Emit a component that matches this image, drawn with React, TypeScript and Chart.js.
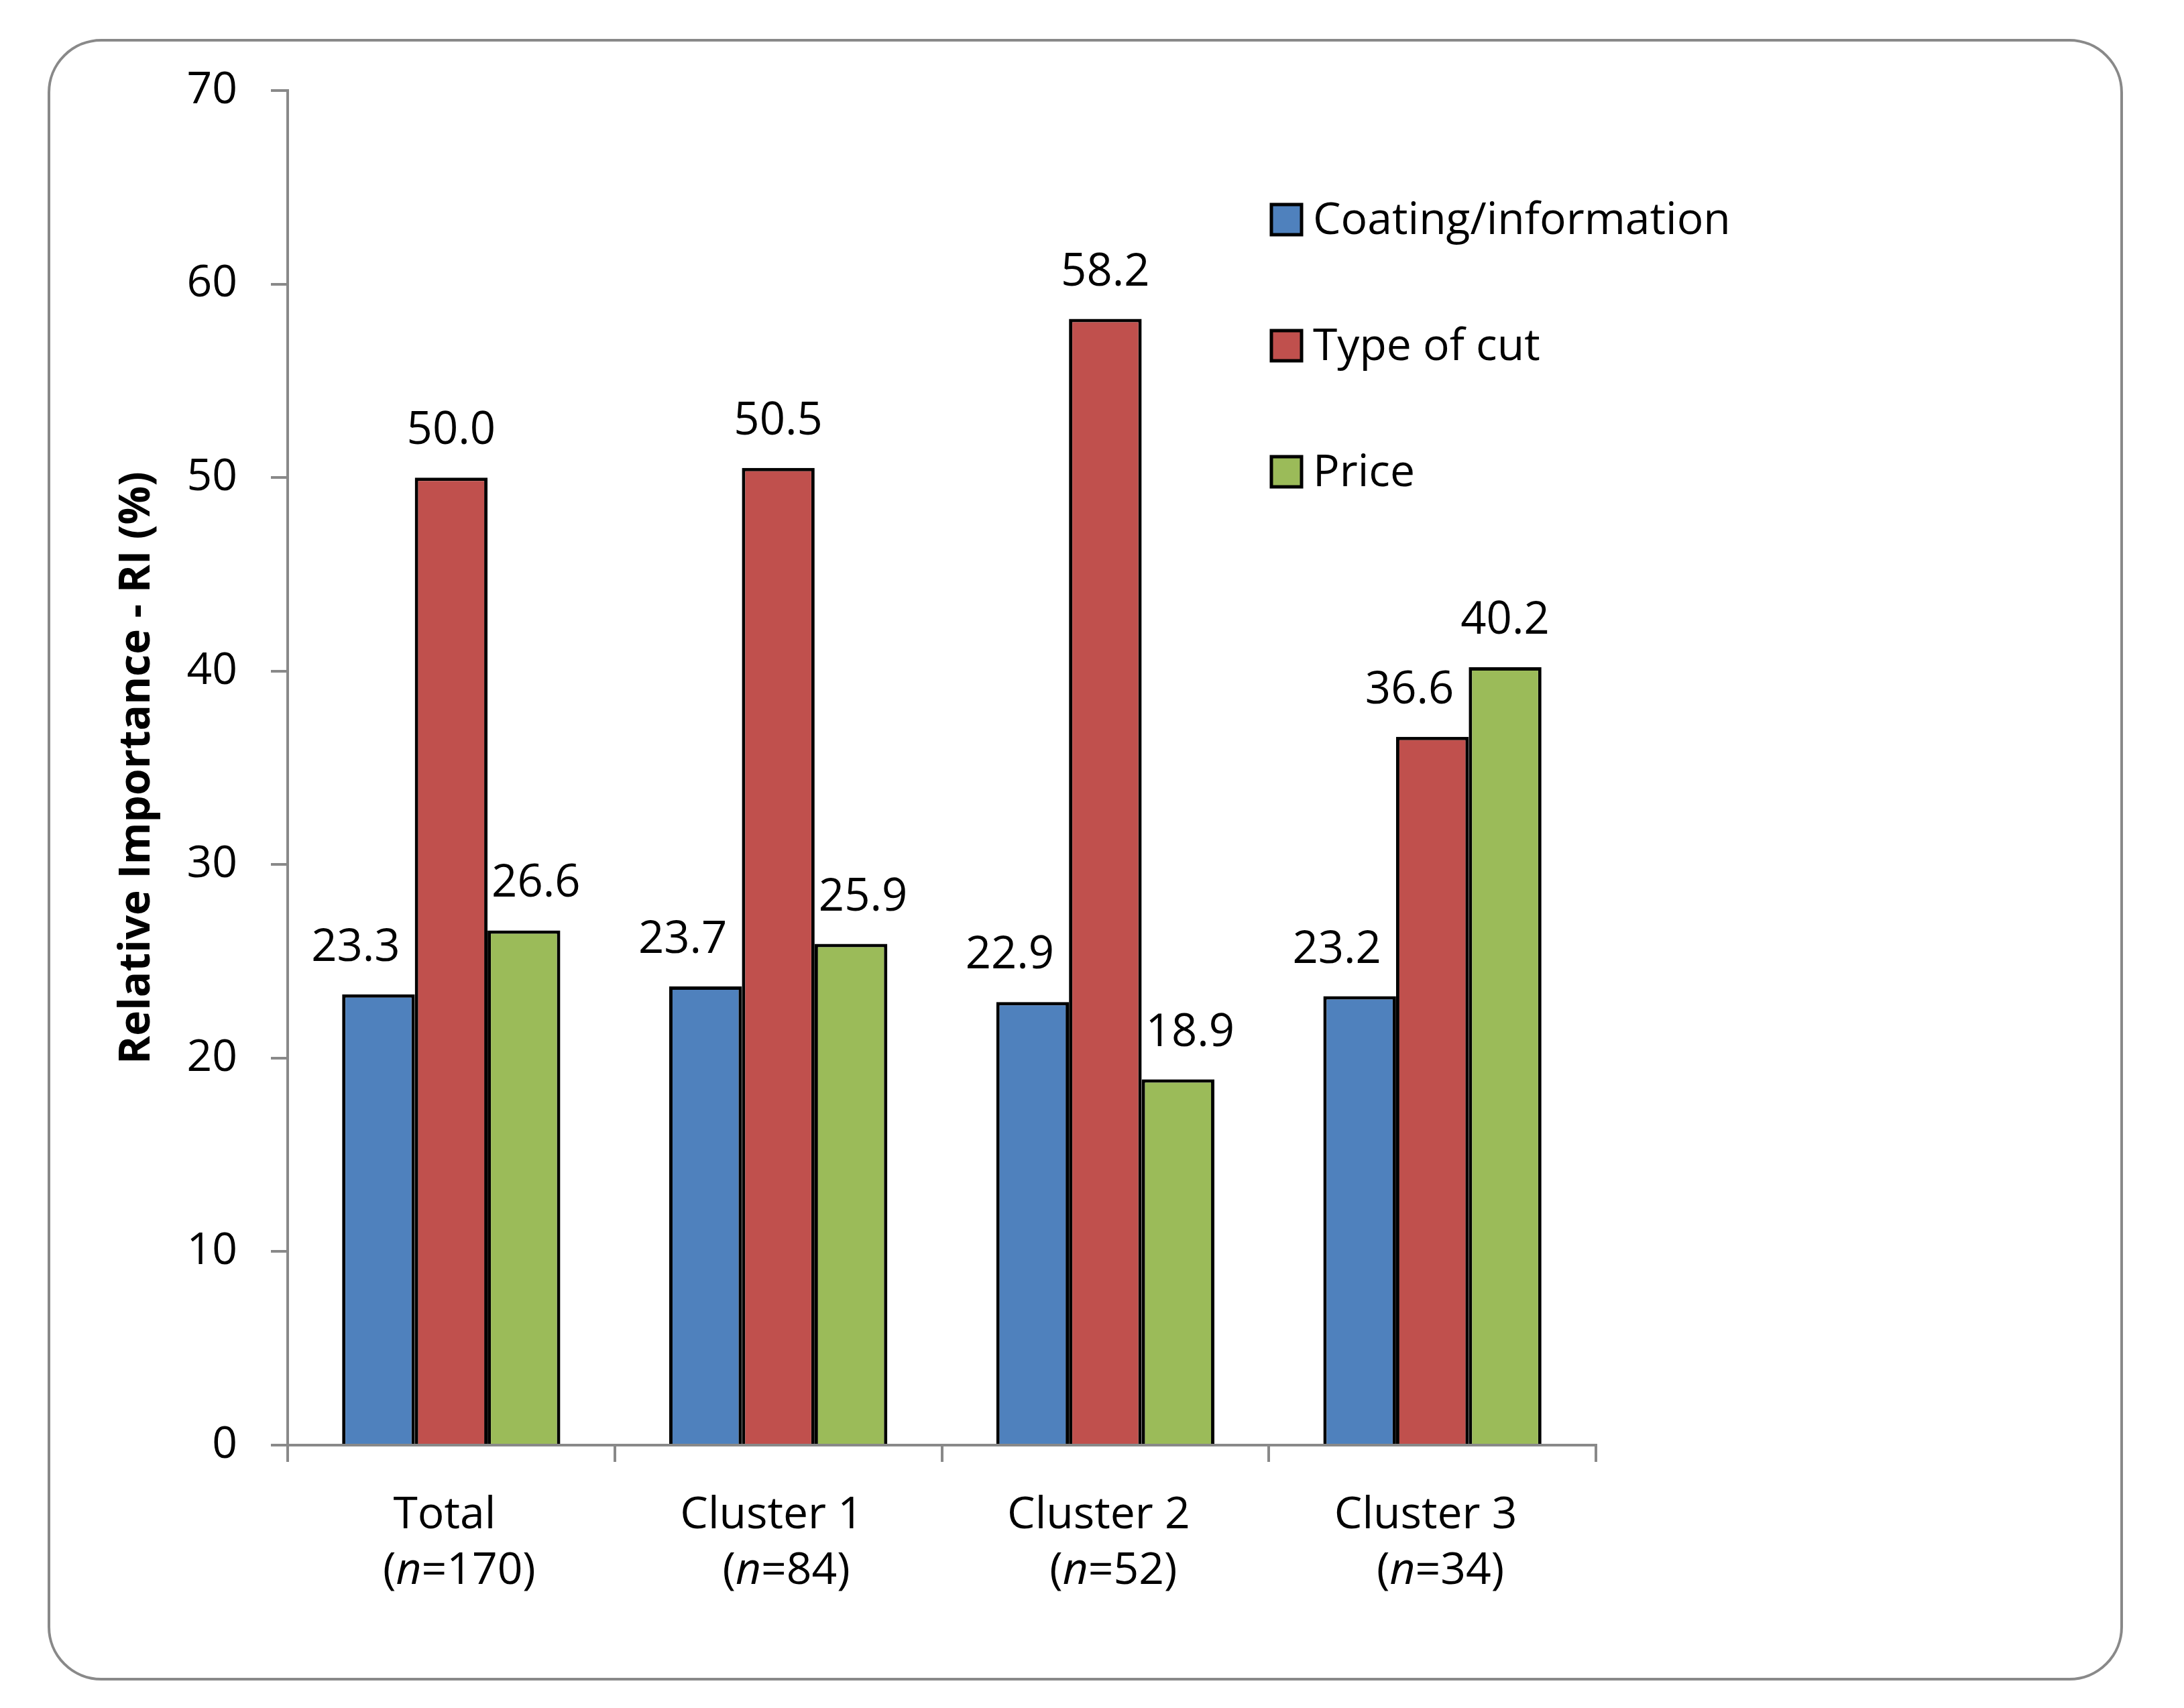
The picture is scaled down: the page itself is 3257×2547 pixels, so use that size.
import React, { useEffect, useRef } from 'react';
import { Chart, registerables } from 'chart.js';

Chart.register(...registerables);

const categories = ['Total', 'Cluster 1', 'Cluster 2', 'Cluster 3'];
const sampleSizes = [170, 84, 52, 34];
const seriesNames = ['Coating/information', 'Type of cut', 'Price'];
const coatingValues = [23.3, 23.7, 22.9, 23.2];
const cutValues = [50.0, 50.5, 58.2, 36.6];
const priceValues = [26.6, 25.9, 18.9, 40.2];
const seriesColors = ['#4F81BD', '#C0504D', '#9BBB59'];
const yAxisTitle = 'Relative Importance - RI (%)';
const yMin = 0;
const yMax = 70;
const yStep = 10;

const FONT = "'Open Sans', 'Noto Sans', sans-serif";
const W = 3257;
const H = 2547;
const GRAY = '#898989';

const framePlugin = {
  id: 'frame',
  beforeDraw(chart: any) {
    const ctx = chart.ctx;
    ctx.save();
    ctx.fillStyle = '#ffffff';
    ctx.fillRect(0, 0, chart.width, chart.height);
    const x0 = 73, y0 = 60, x1 = 3164, y1 = 2504, r = 78;
    ctx.beginPath();
    ctx.moveTo(x0 + r, y0);
    ctx.lineTo(x1 - r, y0);
    ctx.arcTo(x1, y0, x1, y0 + r, r);
    ctx.lineTo(x1, y1 - r);
    ctx.arcTo(x1, y1, x1 - r, y1, r);
    ctx.lineTo(x0 + r, y1);
    ctx.arcTo(x0, y1, x0, y1 - r, r);
    ctx.lineTo(x0, y0 + r);
    ctx.arcTo(x0, y0, x0 + r, y0, r);
    ctx.closePath();
    ctx.lineWidth = 4;
    ctx.strokeStyle = GRAY;
    ctx.stroke();
    ctx.restore();
  },
};

const valueLabelPlugin = {
  id: 'valueLabels',
  afterDatasetsDraw(chart: any) {
    const ctx = chart.ctx;
    ctx.save();
    ctx.font = `67px ${FONT}`;
    ctx.fillStyle = '#000000';
    ctx.textAlign = 'center';
    ctx.textBaseline = 'alphabetic';
    const nSets = chart.data.datasets.length;
    chart.data.datasets.forEach((ds: any, di: number) => {
      const meta = chart.getDatasetMeta(di);
      meta.data.forEach((bar: any, i: number) => {
        const v = ds.data[i];
        const text = Number(v).toFixed(1);
        const tw = ctx.measureText(text).width;
        const baseY = bar.y - 50;
        const top = baseY - 48;
        let cx = bar.x;
        for (let dj = 0; dj < nSets; dj++) {
          if (dj === di) continue;
          const other = chart.getDatasetMeta(dj).data[i];
          const oL = other.x - other.width / 2;
          const oR = other.x + other.width / 2;
          const lL = cx - tw / 2;
          const lR = cx + tw / 2;
          if (lR > oL && lL < oR && baseY > other.y && top < other.base) {
            if (other.x > bar.x) cx -= lR - oL + 22;
            else cx += oR - lL + 6;
          }
        }
        ctx.fillText(text, cx, baseY);
      });
    });
    ctx.restore();
  },
};

const categoryLabelPlugin = {
  id: 'categoryLabels',
  afterDraw(chart: any) {
    const ctx = chart.ctx;
    const xs = chart.scales.x;
    ctx.save();
    ctx.fillStyle = '#000000';
    ctx.textBaseline = 'alphabetic';
    ctx.textAlign = 'left';
    categories.forEach((cat, i) => {
      const cx = xs.getPixelForValue(i);
      ctx.font = `66px ${FONT}`;
      const w1 = ctx.measureText(cat).width;
      ctx.fillText(cat, cx - w1 / 2 - 10, xs.top + 124);
      const parts = [
        { t: '(', italic: false },
        { t: 'n', italic: true },
        { t: `=${sampleSizes[i]})`, italic: false },
      ];
      let total = 0;
      const widths = parts.map((p) => {
        ctx.font = `${p.italic ? 'italic ' : ''}66px ${FONT}`;
        const w = ctx.measureText(p.t).width;
        total += w;
        return w;
      });
      let x = cx - total / 2 + 12;
      parts.forEach((p, k) => {
        ctx.font = `${p.italic ? 'italic ' : ''}66px ${FONT}`;
        ctx.fillText(p.t, x, xs.top + 207);
        x += widths[k];
      });
    });
    ctx.restore();
  },
};

const legendPlugin = {
  id: 'customLegend',
  afterDraw(chart: any) {
    const ctx = chart.ctx;
    ctx.save();
    const boxX = 1896, boxW = 45, boxH = 45;
    const firstTop = 305, spacing = 188;
    chart.data.datasets.forEach((ds: any, i: number) => {
      const top = firstTop + i * spacing;
      ctx.fillStyle = ds.backgroundColor;
      ctx.fillRect(boxX, top, boxW, boxH);
      ctx.lineWidth = 5;
      ctx.strokeStyle = '#000000';
      ctx.strokeRect(boxX, top, boxW, boxH);
      ctx.fillStyle = '#000000';
      ctx.font = `66px ${FONT}`;
      ctx.textAlign = 'left';
      ctx.textBaseline = 'alphabetic';
      ctx.fillText(ds.label, 1958, top + boxH - 1);
    });
    ctx.restore();
  },
};

export default function App() {
  const canvasRef = useRef<HTMLCanvasElement | null>(null);

  useEffect(() => {
    document.body.style.margin = '0';
    document.body.style.overflow = 'hidden';
    const canvas = canvasRef.current;
    if (!canvas) return;
    const valueSets = [coatingValues, cutValues, priceValues];
    const chart = new Chart(canvas, {
      type: 'bar',
      data: {
        labels: categories,
        datasets: seriesNames.map((name, k) => ({
          label: name,
          data: valueSets[k],
          backgroundColor: seriesColors[k],
          borderColor: '#000000',
          borderWidth: 5,
          categoryPercentage: 0.667,
          barPercentage: 1.0,
        })),
      },
      options: {
        responsive: false,
        animation: false,
        devicePixelRatio: 1,
        layout: { padding: { left: 0, top: 135, right: W - 2380, bottom: 0 } },
        plugins: {
          legend: { display: false },
          tooltip: { enabled: false },
          title: { display: false },
        },
        scales: {
          x: {
            type: 'category',
            grid: {
              offset: true,
              drawOnChartArea: false,
              drawTicks: true,
              tickLength: 25,
              color: GRAY,
              lineWidth: 4,
            },
            border: { display: true, color: GRAY, width: 4 },
            ticks: { display: false },
            afterFit: (scale: any) => {
              scale.height = H - 2155;
            },
          },
          y: {
            min: yMin,
            max: yMax,
            ticks: {
              stepSize: yStep,
              color: '#000000',
              font: { family: FONT, size: 66 },
              padding: 50,
            },
            grid: {
              drawOnChartArea: false,
              drawTicks: true,
              tickLength: 25,
              color: GRAY,
              lineWidth: 4,
            },
            border: { display: true, color: GRAY, width: 4 },
            title: {
              display: true,
              text: yAxisTitle,
              color: '#000000',
              font: { family: FONT, size: 64, weight: 'bold' },
              padding: { top: 166, bottom: 0 },
            },
            afterFit: (scale: any) => {
              scale.width = 429;
            },
          },
        },
      },
      plugins: [framePlugin, valueLabelPlugin, categoryLabelPlugin, legendPlugin],
    } as any);
    return () => chart.destroy();
  }, []);

  return (
    <canvas
      ref={canvasRef}
      width={W}
      height={H}
      style={{ display: 'block', width: W, height: H }}
    />
  );
}
